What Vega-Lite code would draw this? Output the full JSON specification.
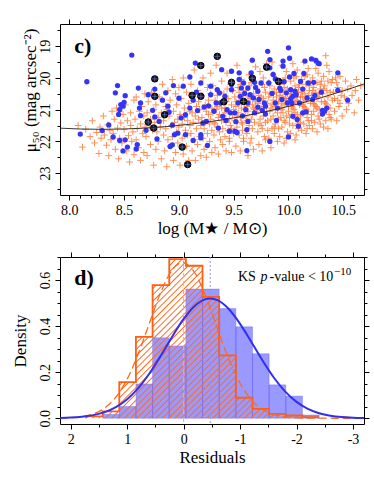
{
"$schema": "https://vega.github.io/schema/vega-lite/v6.json",
"padding": {"left": 11, "top": 18, "right": 0, "bottom": 0},
"spacing": 14,
"config": {
  "view": {"stroke": "black", "strokeWidth": 1},
  "font": "Liberation Serif",
  "axis": {"domain": false, "grid": false, "labelFont": "Liberation Serif", "titleFont": "Liberation Serif", "labelColor": "black", "titleColor": "black", "tickColor": "black", "titleFontWeight": "normal", "labelFontSize": 14, "titleFontSize": 17, "tickWidth": 1, "labelOverlap": false, "labelFlush": false, "labelPadding": 3, "titlePadding": 3}
},
"vconcat": [
{
  "width": 304, "height": 171,
  "layer": [
    {"layer": [
      {
        "data": {"values": [
{"x":8.08,"y":21.5},{"x":8.12,"y":22.18},{"x":8.15,"y":21.62},{"x":8.19,"y":21.85},
{"x":8.21,"y":21.35},{"x":8.23,"y":22.05},{"x":8.25,"y":21.72},{"x":8.27,"y":22.38},{"x":8.28,"y":21.55},{"x":8.29,"y":21.9},
{"x":8.31,"y":21.2},{"x":8.32,"y":21.8},{"x":8.34,"y":22.12},{"x":8.35,"y":21.48},{"x":8.36,"y":22.45},{"x":8.37,"y":21.65},{"x":8.38,"y":21.95},{"x":8.39,"y":21.05},
{"x":8.4,"y":21.75},{"x":8.41,"y":21.3},{"x":8.42,"y":22.25},{"x":8.43,"y":20.95},{"x":8.44,"y":21.58},{"x":8.45,"y":22.55},{"x":8.46,"y":21.9},{"x":8.47,"y":21.42},{"x":8.48,"y":22.05},{"x":8.49,"y":21.15},
{"x":8.5,"y":21.62},{"x":8.51,"y":20.85},{"x":8.52,"y":22.3},{"x":8.53,"y":21.35},{"x":8.54,"y":21.82},{"x":8.55,"y":22.65},{"x":8.56,"y":21.1},{"x":8.56,"y":21.5},{"x":8.57,"y":22.0},{"x":8.58,"y":21.7},{"x":8.59,"y":20.7},{"x":8.59,"y":22.42},
{"x":8.6,"y":21.3},{"x":8.61,"y":21.95},{"x":8.61,"y":20.6},{"x":8.62,"y":21.6},{"x":8.63,"y":22.2},{"x":8.64,"y":21.05},{"x":8.65,"y":21.45},{"x":8.65,"y":22.6},{"x":8.66,"y":20.9},{"x":8.67,"y":21.75},{"x":8.68,"y":22.35},{"x":8.68,"y":21.2},{"x":8.69,"y":21.55},{"x":8.69,"y":20.5},
{"x":8.7,"y":21.85},{"x":8.71,"y":21.1},{"x":8.71,"y":22.45},{"x":8.72,"y":20.75},{"x":8.73,"y":21.5},{"x":8.74,"y":22.1},{"x":8.74,"y":21.3},{"x":8.75,"y":20.45},{"x":8.76,"y":21.65},{"x":8.77,"y":22.75},{"x":8.77,"y":21.0},{"x":8.78,"y":21.4},{"x":8.79,"y":22.25},{"x":8.79,"y":20.85},{"x":8.8,"y":21.7},
{"x":8.81,"y":21.25},{"x":8.81,"y":22.0},{"x":8.82,"y":20.6},{"x":8.83,"y":21.55},{"x":8.84,"y":22.55},{"x":8.84,"y":21.1},{"x":8.85,"y":20.2},{"x":8.86,"y":21.8},{"x":8.86,"y":21.35},{"x":8.87,"y":22.3},{"x":8.88,"y":20.9},{"x":8.88,"y":21.6},{"x":8.89,"y":22.8},{"x":8.89,"y":21.0},{"x":8.9,"y":20.4},{"x":8.9,"y":21.95},
{"x":8.91,"y":21.2},{"x":8.92,"y":22.15},{"x":8.92,"y":20.7},{"x":8.93,"y":21.5},{"x":8.94,"y":20.05},{"x":8.94,"y":21.85},{"x":8.95,"y":22.6},{"x":8.95,"y":21.05},{"x":8.96,"y":21.4},{"x":8.97,"y":20.5},{"x":8.97,"y":22.35},{"x":8.98,"y":21.7},{"x":8.98,"y":20.85},{"x":8.99,"y":21.3},{"x":8.99,"y":22.05},{"x":9.0,"y":20.3},{"x":9.0,"y":21.55},
{"x":9.01,"y":22.75},{"x":9.01,"y":21.15},{"x":9.02,"y":20.65},{"x":9.03,"y":21.45},{"x":9.03,"y":21.9},{"x":9.04,"y":20.0},{"x":9.04,"y":22.4},{"x":9.05,"y":21.25},{"x":9.05,"y":20.95},{"x":9.06,"y":21.65},{"x":9.07,"y":22.15},{"x":9.07,"y":20.45},{"x":9.08,"y":21.35},{"x":9.08,"y":21.8},{"x":9.09,"y":20.8},{"x":9.09,"y":22.6},{"x":9.1,"y":21.05},{"x":9.1,"y":21.5},
{"x":9.11,"y":20.2},{"x":9.11,"y":21.75},{"x":9.12,"y":22.3},{"x":9.12,"y":21.1},{"x":9.13,"y":20.6},{"x":9.13,"y":21.4},{"x":9.14,"y":21.95},{"x":9.14,"y":19.75},{"x":9.15,"y":21.2},{"x":9.15,"y":22.6},{"x":9.16,"y":20.9},{"x":9.16,"y":21.6},{"x":9.17,"y":20.4},{"x":9.17,"y":22.1},{"x":9.18,"y":21.3},{"x":9.18,"y":20.75},{"x":9.19,"y":21.85},{"x":9.19,"y":21.0},{"x":9.2,"y":22.45},{"x":9.2,"y":21.5},
{"x":9.21,"y":20.55},{"x":9.21,"y":21.25},{"x":9.22,"y":21.9},{"x":9.22,"y":20.0},{"x":9.23,"y":21.6},{"x":9.23,"y":22.25},{"x":9.24,"y":20.85},{"x":9.24,"y":21.4},{"x":9.25,"y":21.05},{"x":9.25,"y":22.5},{"x":9.26,"y":20.3},{"x":9.26,"y":21.75},{"x":9.27,"y":21.15},{"x":9.27,"y":20.7},{"x":9.28,"y":22.0},{"x":9.28,"y":21.45},{"x":9.29,"y":19.85},{"x":9.29,"y":21.3},{"x":9.3,"y":20.95},{"x":9.3,"y":21.65},{"x":9.3,"y":22.35},{"x":9.29,"y":20.5},
{"x":9.31,"y":21.1},{"x":9.31,"y":20.25},{"x":9.32,"y":21.8},{"x":9.32,"y":21.4},{"x":9.33,"y":20.7},{"x":9.33,"y":22.2},{"x":9.34,"y":21.0},{"x":9.34,"y":19.6},{"x":9.35,"y":21.55},{"x":9.35,"y":20.9},{"x":9.36,"y":22.4},{"x":9.36,"y":21.25},{"x":9.37,"y":20.45},{"x":9.37,"y":21.7},{"x":9.38,"y":21.95},{"x":9.38,"y":20.8},{"x":9.39,"y":21.35},{"x":9.39,"y":20.1},{"x":9.4,"y":21.6},{"x":9.4,"y":22.1},{"x":9.33,"y":21.45},{"x":9.37,"y":21.15},{"x":9.35,"y":20.55},{"x":9.39,"y":20.95},
{"x":9.41,"y":21.2},{"x":9.41,"y":20.5},{"x":9.42,"y":21.85},{"x":9.42,"y":20.95},{"x":9.43,"y":22.3},{"x":9.43,"y":21.4},{"x":9.44,"y":19.85},{"x":9.44,"y":21.05},{"x":9.45,"y":21.65},{"x":9.45,"y":20.65},{"x":9.46,"y":22.0},{"x":9.46,"y":21.3},{"x":9.47,"y":20.2},{"x":9.47,"y":21.5},{"x":9.48,"y":20.85},{"x":9.48,"y":22.35},{"x":9.49,"y":21.15},{"x":9.49,"y":20.4},{"x":9.5,"y":21.75},{"x":9.5,"y":21.0},{"x":9.43,"y":20.75},{"x":9.46,"y":21.9},{"x":9.44,"y":20.35},{"x":9.48,"y":21.6},{"x":9.42,"y":21.1},
{"x":9.51,"y":20.6},{"x":9.51,"y":21.35},{"x":9.52,"y":22.15},{"x":9.52,"y":20.9},{"x":9.53,"y":19.6},{"x":9.53,"y":21.55},{"x":9.54,"y":20.3},{"x":9.54,"y":21.1},{"x":9.55,"y":21.8},{"x":9.55,"y":20.7},{"x":9.56,"y":22.3},{"x":9.56,"y":21.25},{"x":9.57,"y":20.05},{"x":9.57,"y":20.95},{"x":9.58,"y":21.65},{"x":9.58,"y":21.45},{"x":9.59,"y":20.5},{"x":9.59,"y":22.0},{"x":9.6,"y":21.0},{"x":9.6,"y":20.8},{"x":9.53,"y":21.2},{"x":9.55,"y":20.45},{"x":9.57,"y":21.4},{"x":9.59,"y":21.9},{"x":9.52,"y":20.75},{"x":9.56,"y":20.2},
{"x":9.61,"y":21.2},{"x":9.61,"y":20.4},{"x":9.62,"y":21.75},{"x":9.62,"y":20.9},{"x":9.63,"y":22.45},{"x":9.63,"y":21.05},{"x":9.64,"y":19.9},{"x":9.64,"y":21.5},{"x":9.65,"y":20.65},{"x":9.65,"y":22.05},{"x":9.66,"y":21.3},{"x":9.66,"y":20.15},{"x":9.67,"y":20.85},{"x":9.67,"y":21.6},{"x":9.68,"y":22.25},{"x":9.68,"y":20.5},{"x":9.69,"y":21.0},{"x":9.69,"y":21.4},{"x":9.7,"y":19.65},{"x":9.7,"y":20.75},{"x":9.62,"y":21.35},{"x":9.64,"y":20.25},{"x":9.66,"y":21.9},{"x":9.68,"y":20.95},{"x":9.63,"y":20.6},{"x":9.67,"y":21.15},
{"x":9.71,"y":21.1},{"x":9.71,"y":20.35},{"x":9.72,"y":21.7},{"x":9.72,"y":20.8},{"x":9.73,"y":22.1},{"x":9.73,"y":20.55},{"x":9.74,"y":21.3},{"x":9.74,"y":19.8},{"x":9.75,"y":20.95},{"x":9.75,"y":21.5},{"x":9.76,"y":20.2},{"x":9.76,"y":22.3},{"x":9.77,"y":21.2},{"x":9.77,"y":20.65},{"x":9.78,"y":21.85},{"x":9.78,"y":20.9},{"x":9.79,"y":21.4},{"x":9.79,"y":20.45},{"x":9.8,"y":21.05},{"x":9.8,"y":19.55},{"x":9.72,"y":21.0},{"x":9.74,"y":20.7},{"x":9.76,"y":21.6},{"x":9.78,"y":20.3},{"x":9.73,"y":21.45},{"x":9.77,"y":20.0},{"x":9.79,"y":21.95},{"x":9.75,"y":20.6},
{"x":9.81,"y":20.8},{"x":9.81,"y":21.35},{"x":9.82,"y":20.15},{"x":9.82,"y":21.9},{"x":9.83,"y":21.05},{"x":9.83,"y":20.5},{"x":9.84,"y":22.2},{"x":9.84,"y":20.95},{"x":9.85,"y":21.6},{"x":9.85,"y":19.5},{"x":9.86,"y":20.7},{"x":9.86,"y":21.2},{"x":9.87,"y":20.35},{"x":9.87,"y":21.75},{"x":9.88,"y":20.9},{"x":9.88,"y":21.45},{"x":9.89,"y":20.05},{"x":9.89,"y":20.6},{"x":9.9,"y":21.1},{"x":9.9,"y":22.0},{"x":9.82,"y":20.6},{"x":9.84,"y":21.3},{"x":9.86,"y":19.9},{"x":9.88,"y":21.0},{"x":9.83,"y":20.25},{"x":9.85,"y":20.85},{"x":9.87,"y":21.55},{"x":9.89,"y":20.45},{"x":9.81,"y":21.65},{"x":9.86,"y":20.5},
{"x":9.91,"y":20.75},{"x":9.91,"y":21.3},{"x":9.92,"y":20.2},{"x":9.92,"y":21.85},{"x":9.93,"y":20.95},{"x":9.93,"y":20.45},{"x":9.94,"y":21.55},{"x":9.94,"y":19.6},{"x":9.95,"y":21.1},{"x":9.95,"y":20.6},{"x":9.96,"y":22.05},{"x":9.96,"y":20.85},{"x":9.97,"y":21.4},{"x":9.97,"y":20.0},{"x":9.98,"y":20.7},{"x":9.98,"y":21.2},{"x":9.99,"y":20.35},{"x":9.99,"y":21.7},{"x":10.0,"y":20.9},{"x":10.0,"y":21.05},{"x":9.92,"y":20.55},{"x":9.94,"y":21.0},{"x":9.96,"y":20.3},{"x":9.98,"y":21.9},{"x":9.93,"y":21.25},{"x":9.95,"y":20.1},{"x":9.97,"y":20.65},{"x":9.99,"y":20.5},{"x":9.91,"y":21.6},{"x":9.96,"y":21.35},{"x":9.94,"y":20.8},{"x":9.98,"y":19.8},
{"x":10.01,"y":20.65},{"x":10.01,"y":21.25},{"x":10.02,"y":20.1},{"x":10.02,"y":21.75},{"x":10.03,"y":20.9},{"x":10.03,"y":20.4},{"x":10.04,"y":21.5},{"x":10.04,"y":19.55},{"x":10.05,"y":21.0},{"x":10.05,"y":20.55},{"x":10.06,"y":21.95},{"x":10.06,"y":20.75},{"x":10.07,"y":21.3},{"x":10.07,"y":19.95},{"x":10.08,"y":20.6},{"x":10.08,"y":21.15},{"x":10.09,"y":20.3},{"x":10.09,"y":21.6},{"x":10.1,"y":20.85},{"x":10.1,"y":20.2},{"x":10.02,"y":20.5},{"x":10.04,"y":20.95},{"x":10.06,"y":20.25},{"x":10.08,"y":21.45},{"x":10.03,"y":21.15},{"x":10.05,"y":20.0},{"x":10.07,"y":20.7},{"x":10.09,"y":20.45},{"x":10.01,"y":21.45},{"x":10.06,"y":21.1},{"x":10.04,"y":20.8},{"x":10.08,"y":19.75},{"x":10.03,"y":20.6},{"x":10.07,"y":21.8},
{"x":10.11,"y":20.6},{"x":10.11,"y":21.2},{"x":10.12,"y":20.05},{"x":10.12,"y":21.65},{"x":10.13,"y":20.85},{"x":10.13,"y":20.35},{"x":10.14,"y":21.45},{"x":10.14,"y":19.5},{"x":10.15,"y":20.95},{"x":10.15,"y":20.5},{"x":10.16,"y":21.75},{"x":10.16,"y":20.7},{"x":10.17,"y":21.25},{"x":10.17,"y":19.9},{"x":10.18,"y":20.55},{"x":10.18,"y":21.05},{"x":10.19,"y":20.25},{"x":10.19,"y":21.5},{"x":10.2,"y":20.8},{"x":10.2,"y":20.15},{"x":10.12,"y":20.45},{"x":10.14,"y":20.9},{"x":10.16,"y":20.2},{"x":10.18,"y":21.35},{"x":10.13,"y":21.1},{"x":10.15,"y":19.95},{"x":10.17,"y":20.65},{"x":10.19,"y":20.4},{"x":10.11,"y":21.4},{"x":10.16,"y":21.0},{"x":10.14,"y":20.75},{"x":10.18,"y":19.7},{"x":10.13,"y":20.6},{"x":10.17,"y":21.6},
{"x":10.21,"y":20.55},{"x":10.21,"y":21.15},{"x":10.22,"y":20.0},{"x":10.22,"y":21.6},{"x":10.23,"y":20.8},{"x":10.23,"y":20.3},{"x":10.24,"y":21.4},{"x":10.24,"y":19.45},{"x":10.25,"y":20.9},{"x":10.25,"y":20.45},{"x":10.26,"y":21.7},{"x":10.26,"y":20.65},{"x":10.27,"y":21.2},{"x":10.27,"y":19.85},{"x":10.28,"y":20.5},{"x":10.28,"y":21.0},{"x":10.29,"y":20.2},{"x":10.29,"y":21.45},{"x":10.3,"y":20.75},{"x":10.3,"y":20.1},{"x":10.22,"y":20.4},{"x":10.24,"y":20.85},{"x":10.26,"y":20.15},{"x":10.28,"y":21.3},{"x":10.23,"y":21.05},{"x":10.25,"y":19.7},{"x":10.27,"y":20.6},{"x":10.29,"y":20.35},{"x":10.21,"y":21.35},{"x":10.26,"y":20.95},
{"x":10.31,"y":20.5},{"x":10.31,"y":21.1},{"x":10.32,"y":19.95},{"x":10.32,"y":21.55},{"x":10.33,"y":20.75},{"x":10.33,"y":20.25},{"x":10.34,"y":21.35},{"x":10.34,"y":19.3},{"x":10.35,"y":20.85},{"x":10.35,"y":20.4},{"x":10.36,"y":21.6},{"x":10.36,"y":20.6},{"x":10.37,"y":21.15},{"x":10.37,"y":19.8},{"x":10.38,"y":20.45},{"x":10.38,"y":20.95},{"x":10.39,"y":20.15},{"x":10.39,"y":21.3},{"x":10.4,"y":20.7},{"x":10.4,"y":20.05},{"x":10.32,"y":20.35},{"x":10.34,"y":20.8},{"x":10.36,"y":20.1},{"x":10.38,"y":21.25},{"x":10.33,"y":21.0},{"x":10.35,"y":19.6},
{"x":10.41,"y":20.45},{"x":10.42,"y":21.05},{"x":10.43,"y":20.0},{"x":10.44,"y":21.35},{"x":10.45,"y":20.7},{"x":10.45,"y":20.3},{"x":10.46,"y":20.9},{"x":10.47,"y":19.95},{"x":10.48,"y":20.55},{"x":10.49,"y":21.2},{"x":10.42,"y":20.65},{"x":10.44,"y":20.15},{"x":10.47,"y":20.8},{"x":10.49,"y":20.4},
{"x":10.51,"y":20.6},{"x":10.52,"y":20.1},{"x":10.53,"y":21.0},{"x":10.54,"y":20.35},{"x":10.55,"y":20.8},{"x":10.57,"y":20.25},{"x":10.58,"y":20.55},{"x":10.6,"y":21.1},
{"x":10.61,"y":20.4},{"x":10.62,"y":20.05},{"x":10.64,"y":20.7},{"x":10.66,"y":20.25}
        ]},
        "mark": {"type": "point", "shape": "M-1,0H1M0,-1V1", "filled": false, "stroke": "#ff6a1e", "strokeWidth": 1, "size": 45, "opacity": 0.75},
        "encoding": {
          "x": {"field": "x", "type": "quantitative", "scale": {"domain": [7.915, 10.689], "nice": false, "zero": false},
            "axis": {"orient": "bottom", "values": [8,8.5,9,9.5,10,10.5], "format": ".1f", "tickSize": 5, "labelOverlap": false,
              "title": "log (M★ / M⊙)"}},
          "y": {"field": "y", "type": "quantitative", "scale": {"domain": [18.3, 23.69], "reverse": true, "nice": false, "zero": false},
            "axis": {"orient": "left", "values": [19,20,21,22,23], "format": "d", "tickSize": 5, "labelOverlap": false,
              "labelAngle": 270, "labelAlign": "center", "labelBaseline": "bottom",
              "title": "μ₅₀ (mag arcsec⁻²)", "titleY": 66, "titleX": -24.5, "titleBaseline": "alphabetic", "titleAngle": 270, "titleAlign": "center"}}
        }
      },
      {
        "data": {"values": [
{"x":8.1,"y":21.77},{"x":8.16,"y":20.12},{"x":8.3,"y":21.66},{"x":8.36,"y":21.48},{"x":8.4,"y":21.86},{"x":8.42,"y":20.47},{"x":8.44,"y":20.24},{"x":8.45,"y":21.15},{"x":8.46,"y":21.0},{"x":8.47,"y":20.84},{"x":8.49,"y":20.89},{"x":8.5,"y":20.77},{"x":8.51,"y":20.56},{"x":8.46,"y":21.97},{"x":8.49,"y":22.3},{"x":8.51,"y":21.95},{"x":8.53,"y":22.18},{"x":8.57,"y":19.28},{"x":8.61,"y":22.24},{"x":8.62,"y":22.1},
{"x":8.63,"y":20.32},{"x":8.64,"y":20.95},{"x":8.65,"y":20.79},{"x":8.65,"y":21.19},{"x":8.72,"y":20.53},{"x":8.76,"y":21.02},{"x":8.78,"y":21.23},{"x":8.78,"y":20.35},{"x":8.8,"y":21.92},{"x":8.82,"y":21.37},{"x":8.88,"y":20.47},{"x":8.9,"y":20.89},{"x":8.91,"y":21.08},{"x":8.94,"y":21.49},{"x":8.95,"y":20.24},{"x":8.92,"y":22.16},{"x":8.94,"y":22.11},{"x":8.96,"y":21.79},{"x":8.99,"y":21.74},{"x":9.0,"y":20.64},
{"x":9.02,"y":21.26},{"x":9.04,"y":20.26},{"x":9.06,"y":21.79},{"x":9.06,"y":21.16},{"x":9.1,"y":19.97},{"x":9.1,"y":20.95},{"x":9.13,"y":21.97},{"x":9.16,"y":20.45},{"x":9.17,"y":21.03},{"x":9.2,"y":21.79},{"x":9.2,"y":21.89},{"x":9.2,"y":20.16},{"x":9.22,"y":21.42},{"x":9.23,"y":20.92},{"x":9.25,"y":21.37},{"x":9.26,"y":22.13},{"x":9.15,"y":19.53},{"x":9.29,"y":20.53},{"x":9.29,"y":20.26},{"x":9.32,"y":21.05},
{"x":9.34,"y":20.79},{"x":9.35,"y":20.37},{"x":9.37,"y":20.47},{"x":9.38,"y":20.79},{"x":9.39,"y":19.74},{"x":9.4,"y":21.21},{"x":9.42,"y":20.58},{"x":9.43,"y":21.34},{"x":9.46,"y":21.68},{"x":9.47,"y":21.1},{"x":9.48,"y":19.79},{"x":9.48,"y":20.21},{"x":9.48,"y":20.37},{"x":9.51,"y":21.1},{"x":9.51,"y":21.68},{"x":9.52,"y":21.38},{"x":9.54,"y":20.79},{"x":9.55,"y":19.84},{"x":9.55,"y":20.05},{"x":9.56,"y":20.58},
{"x":9.57,"y":20.32},{"x":9.59,"y":20.16},{"x":9.6,"y":20.49},{"x":9.61,"y":21.0},{"x":9.62,"y":21.63},{"x":9.63,"y":20.79},{"x":9.63,"y":21.37},{"x":9.63,"y":20.32},{"x":9.65,"y":20.53},{"x":9.66,"y":19.84},{"x":9.67,"y":19.44},{"x":9.68,"y":20.63},{"x":9.69,"y":20.14},{"x":9.69,"y":21.1},{"x":9.72,"y":20.42},{"x":9.72,"y":20.92},{"x":9.73,"y":20.68},{"x":9.75,"y":20.16},{"x":9.78,"y":20.79},{"x":9.79,"y":20.89},
{"x":9.79,"y":21.14},{"x":9.81,"y":19.16},{"x":9.82,"y":20.16},{"x":9.83,"y":19.68},{"x":9.83,"y":19.42},{"x":9.85,"y":20.49},{"x":9.86,"y":19.89},{"x":9.88,"y":20.03},{"x":9.88,"y":20.79},{"x":9.89,"y":21.34},{"x":9.83,"y":22.0},{"x":9.92,"y":20.32},{"x":9.93,"y":20.39},{"x":9.94,"y":20.68},{"x":9.95,"y":19.47},{"x":9.95,"y":19.63},{"x":9.96,"y":20.12},{"x":9.98,"y":20.47},{"x":9.99,"y":20.79},{"x":10.0,"y":19.05},
{"x":10.01,"y":19.38},{"x":10.01,"y":19.97},{"x":10.02,"y":20.37},{"x":10.02,"y":20.66},{"x":10.03,"y":20.79},{"x":10.04,"y":20.58},{"x":10.04,"y":21.21},{"x":10.05,"y":19.86},{"x":10.07,"y":20.53},{"x":10.08,"y":21.31},{"x":10.1,"y":20.79},{"x":10.11,"y":20.11},{"x":10.13,"y":20.35},{"x":10.13,"y":21.1},{"x":10.14,"y":19.86},{"x":10.15,"y":19.47},{"x":10.17,"y":20.63},{"x":10.18,"y":20.16},{"x":10.21,"y":19.4},{"x":10.22,"y":20.68},
{"x":10.23,"y":20.14},{"x":10.25,"y":19.45},{"x":10.27,"y":19.53},{"x":10.28,"y":19.55},{"x":10.3,"y":20.45},{"x":10.31,"y":21.02},{"x":10.31,"y":21.14},{"x":10.45,"y":19.84},{"x":10.45,"y":20.39},{"x":10.54,"y":20.7},{"x":9.62,"y":22.29},{"x":10.09,"y":21.52},{"x":10.0,"y":21.86},
{"x":9.13,"y":20.7},{"x":9.27,"y":20.88},{"x":9.44,"y":21.0},{"x":9.58,"y":21.2},{"x":9.7,"y":20.3},{"x":9.76,"y":21.02},{"x":9.9,"y":20.95},{"x":10.06,"y":20.42},{"x":10.16,"y":21.07},{"x":10.24,"y":20.55},{"x":8.7,"y":21.65},{"x":8.85,"y":20.7},{"x":9.36,"y":21.58},{"x":9.53,"y":21.72},{"x":10.35,"y":20.95},{"x":10.33,"y":21.05}
        ]},
        "mark": {"type": "circle", "fill": "#3434f6", "size": 28, "opacity": 1},
        "encoding": {
          "x": {"field": "x", "type": "quantitative", "scale": {"domain": [7.915, 10.689], "nice": false, "zero": false}},
          "y": {"field": "y", "type": "quantitative", "scale": {"domain": [18.3, 23.69], "reverse": true, "nice": false, "zero": false}}
        }
      },
      {
        "data": {"values": [
{"x":8.78,"y":20.03},{"x":8.78,"y":20.58},{"x":8.87,"y":21.16},{"x":8.72,"y":21.39},{"x":8.77,"y":21.58},{"x":9.03,"y":22.18},{"x":9.08,"y":22.73},{"x":9.12,"y":20.55},{"x":9.2,"y":19.61},{"x":9.2,"y":20.58},{"x":9.35,"y":19.32},{"x":9.41,"y":20.75},{"x":9.48,"y":20.14},{"x":9.59,"y":20.74},{"x":9.67,"y":20.01},{"x":9.8,"y":19.66},{"x":9.91,"y":20.11}
        ]},
        "mark": {"type": "circle", "fill": "#141420", "stroke": "black", "strokeWidth": 1, "size": 42, "opacity": 1},
        "encoding": {
          "x": {"field": "x", "type": "quantitative", "scale": {"domain": [7.915, 10.689], "nice": false, "zero": false}},
          "y": {"field": "y", "type": "quantitative", "scale": {"domain": [18.3, 23.69], "reverse": true, "nice": false, "zero": false}}
        }
      },
      {
        "data": {"values": [
{"x":8.78,"y":20.03},{"x":8.78,"y":20.58},{"x":8.87,"y":21.16},{"x":8.72,"y":21.39},{"x":8.77,"y":21.58},{"x":9.03,"y":22.18},{"x":9.08,"y":22.73},{"x":9.12,"y":20.55},{"x":9.2,"y":19.61},{"x":9.2,"y":20.58},{"x":9.35,"y":19.32},{"x":9.41,"y":20.75},{"x":9.48,"y":20.14},{"x":9.59,"y":20.74},{"x":9.67,"y":20.01},{"x":9.8,"y":19.66},{"x":9.91,"y":20.11}
        ]},
        "mark": {"type": "point", "shape": "M-1,0H1M0,-1V1", "filled": false, "stroke": "#5a6aa8", "strokeWidth": 0.8, "size": 30, "opacity": 1},
        "encoding": {
          "x": {"field": "x", "type": "quantitative", "scale": {"domain": [7.915, 10.689], "nice": false, "zero": false}},
          "y": {"field": "y", "type": "quantitative", "scale": {"domain": [18.3, 23.69], "reverse": true, "nice": false, "zero": false}}
        }
      },
      {
        "data": {"values": [
{"x":7.915,"y":21.583},{"x":8.1,"y":21.61},{"x":8.3,"y":21.62},{"x":8.5,"y":21.61},{"x":8.7,"y":21.58},{"x":8.9,"y":21.53},{"x":9.1,"y":21.46},{"x":9.3,"y":21.37},{"x":9.5,"y":21.26},{"x":9.7,"y":21.13},{"x":9.9,"y":20.98},{"x":10.1,"y":20.81},{"x":10.3,"y":20.62},{"x":10.5,"y":20.41},{"x":10.689,"y":20.19}
        ]},
        "mark": {"type": "line", "stroke": "#222222", "strokeWidth": 0.9, "interpolate": "monotone"},
        "encoding": {
          "x": {"field": "x", "type": "quantitative", "scale": {"domain": [7.915, 10.689], "nice": false, "zero": false}},
          "y": {"field": "y", "type": "quantitative", "scale": {"domain": [18.3, 23.69], "reverse": true, "nice": false, "zero": false}}
        }
      },
      {
        "data": {"values": [{}]},
        "mark": {"type": "text", "text": "c)", "font": "Liberation Serif", "fontSize": 22, "fontWeight": "bold", "align": "left", "baseline": "alphabetic", "color": "black"},
        "encoding": {
          "x": {"datum": 8.046, "type": "quantitative"},
          "y": {"datum": 19.21, "type": "quantitative"}
        }
      }
    ]},
    {
      "data": {"values": [{"x": 9, "y": 21}]},
      "mark": {"type": "point", "opacity": 0},
      "encoding": {
        "x": {"field": "x", "type": "quantitative", "scale": {"domain": [7.915, 10.689], "nice": false, "zero": false},
          "axis": {"orient": "top", "values": [8,8.1,8.2,8.3,8.4,8.5,8.6,8.7,8.8,8.9,9,9.1,9.2,9.3,9.4,9.5,9.6,9.7,9.8,9.9,10,10.1,10.2,10.3,10.4,10.5,10.6], "labels": false, "title": null,
            "tickSize": {"condition": {"test": "abs(datum.value*2-round(datum.value*2))<0.001", "value": 5}, "value": 3}}},
        "y": {"field": "y", "type": "quantitative", "scale": {"domain": [18.3, 23.69], "reverse": true, "nice": false, "zero": false},
          "axis": {"orient": "right", "values": [18.5,19,19.5,20,20.5,21,21.5,22,22.5,23,23.5], "labels": false, "title": null,
            "tickSize": {"condition": {"test": "abs(datum.value-round(datum.value))<0.001", "value": 5}, "value": 3}}}
      }
    },
    {
      "data": {"values": [{"x": 9, "y": 21}]},
      "mark": {"type": "point", "opacity": 0},
      "encoding": {
        "x": {"field": "x", "type": "quantitative", "scale": {"domain": [7.915, 10.689], "nice": false, "zero": false},
          "axis": {"orient": "bottom", "values": [8.1,8.2,8.3,8.4,8.6,8.7,8.8,8.9,9.1,9.2,9.3,9.4,9.6,9.7,9.8,9.9,10.1,10.2,10.3,10.4,10.6], "labels": false, "title": null, "tickSize": 3}},
        "y": {"field": "y", "type": "quantitative", "scale": {"domain": [18.3, 23.69], "reverse": true, "nice": false, "zero": false},
          "axis": {"orient": "left", "values": [18.5,19.5,20.5,21.5,22.5,23.5], "labels": false, "title": null, "tickSize": 3}}
      }
    }
  ],
  "resolve": {"axis": {"x": "independent", "y": "independent"}}
},
{
  "width": 304, "height": 167,
  "layer": [
    {"layer": [
      {
        "data": {"values": [
{"x1":-2.4,"x2":-2.105,"h":0.014},{"x1":-2.105,"x2":-1.81,"h":0.096},{"x1":-1.81,"x2":-1.515,"h":0.145},{"x1":-1.515,"x2":-1.22,"h":0.28},{"x1":-1.22,"x2":-0.925,"h":0.397},{"x1":-0.925,"x2":-0.63,"h":0.476},{"x1":-0.63,"x2":-0.335,"h":0.561},{"x1":-0.335,"x2":-0.04,"h":0.561},{"x1":-0.04,"x2":0.255,"h":0.314},{"x1":0.255,"x2":0.55,"h":0.349},{"x1":0.55,"x2":0.845,"h":0.149},{"x1":0.845,"x2":1.14,"h":0.051},{"x1":1.14,"x2":1.435,"h":0.017}
        ]},
        "mark": {"type": "rect", "fill": "#3333ff", "fillOpacity": 0.5, "stroke": "#3333ff", "strokeOpacity": 0.25, "strokeWidth": 1},
        "encoding": {
          "x": {"field": "x1", "type": "quantitative", "scale": {"domain": [-3.195, 2.19], "reverse": true, "nice": false, "zero": false},
            "axis": {"orient": "bottom", "values": [-3,-2,-1,0,1,2], "labelExpr": "toString(datum.value)", "tickSize": 5, "labelOverlap": false,
              "title": "Residuals"}},
          "x2": {"field": "x2"},
          "y": {"field": "h", "type": "quantitative", "scale": {"domain": [-0.025, 0.7], "nice": false, "zero": false},
            "axis": {"orient": "left", "values": [0,0.2,0.4,0.6], "format": ".1f", "tickSize": 5, "labelOverlap": false,
              "labelAngle": 270, "labelAlign": "center", "labelBaseline": "bottom",
              "title": "Density", "titleX": -34.4, "titleBaseline": "alphabetic", "titleAngle": 270, "titleAlign": "center"}},
          "y2": {"datum": 0}
        }
      },
      {
        "data": {"values": [
{"x":-2.4,"h":0.005},{"x":-2.105,"h":0.012},{"x":-1.81,"h":0.019},{"x":-1.515,"h":0.041},{"x":-1.22,"h":0.089},{"x":-0.925,"h":0.273},{"x":-0.63,"h":0.527},{"x":-0.335,"h":0.662},{"x":-0.04,"h":0.691},{"x":0.255,"h":0.578},{"x":0.55,"h":0.353},{"x":0.845,"h":0.157},{"x":1.14,"h":0.03},{"x":1.435,"h":0.008},{"x":1.73,"h":0}
        ]},
        "layer": [
          {"mark": {"type": "area", "interpolate": "step-before", "opacity": 1,
            "fill": {"gradient": "linear", "x1": 0, "y1": 0, "x2": 1.1477, "y2": 0.7837, "stops": [
{"offset":0,"color":"rgba(255,106,26,0)"},{"offset":0.0035,"color":"#ff6a1a"},{"offset":0.007,"color":"rgba(255,106,26,0)"},
{"offset":0.0161,"color":"rgba(255,106,26,0)"},{"offset":0.0196,"color":"#ff6a1a"},{"offset":0.0231,"color":"rgba(255,106,26,0)"},
{"offset":0.0323,"color":"rgba(255,106,26,0)"},{"offset":0.0358,"color":"#ff6a1a"},{"offset":0.0393,"color":"rgba(255,106,26,0)"},
{"offset":0.0484,"color":"rgba(255,106,26,0)"},{"offset":0.0519,"color":"#ff6a1a"},{"offset":0.0554,"color":"rgba(255,106,26,0)"},
{"offset":0.0645,"color":"rgba(255,106,26,0)"},{"offset":0.068,"color":"#ff6a1a"},{"offset":0.0715,"color":"rgba(255,106,26,0)"},
{"offset":0.0806,"color":"rgba(255,106,26,0)"},{"offset":0.0841,"color":"#ff6a1a"},{"offset":0.0876,"color":"rgba(255,106,26,0)"},
{"offset":0.0968,"color":"rgba(255,106,26,0)"},{"offset":0.1003,"color":"#ff6a1a"},{"offset":0.1038,"color":"rgba(255,106,26,0)"},
{"offset":0.1129,"color":"rgba(255,106,26,0)"},{"offset":0.1164,"color":"#ff6a1a"},{"offset":0.1199,"color":"rgba(255,106,26,0)"},
{"offset":0.129,"color":"rgba(255,106,26,0)"},{"offset":0.1325,"color":"#ff6a1a"},{"offset":0.136,"color":"rgba(255,106,26,0)"},
{"offset":0.1452,"color":"rgba(255,106,26,0)"},{"offset":0.1487,"color":"#ff6a1a"},{"offset":0.1522,"color":"rgba(255,106,26,0)"},
{"offset":0.1613,"color":"rgba(255,106,26,0)"},{"offset":0.1648,"color":"#ff6a1a"},{"offset":0.1683,"color":"rgba(255,106,26,0)"},
{"offset":0.1774,"color":"rgba(255,106,26,0)"},{"offset":0.1809,"color":"#ff6a1a"},{"offset":0.1844,"color":"rgba(255,106,26,0)"},
{"offset":0.1935,"color":"rgba(255,106,26,0)"},{"offset":0.197,"color":"#ff6a1a"},{"offset":0.2005,"color":"rgba(255,106,26,0)"},
{"offset":0.2097,"color":"rgba(255,106,26,0)"},{"offset":0.2132,"color":"#ff6a1a"},{"offset":0.2167,"color":"rgba(255,106,26,0)"},
{"offset":0.2258,"color":"rgba(255,106,26,0)"},{"offset":0.2293,"color":"#ff6a1a"},{"offset":0.2328,"color":"rgba(255,106,26,0)"},
{"offset":0.2419,"color":"rgba(255,106,26,0)"},{"offset":0.2454,"color":"#ff6a1a"},{"offset":0.2489,"color":"rgba(255,106,26,0)"},
{"offset":0.2581,"color":"rgba(255,106,26,0)"},{"offset":0.2616,"color":"#ff6a1a"},{"offset":0.2651,"color":"rgba(255,106,26,0)"},
{"offset":0.2742,"color":"rgba(255,106,26,0)"},{"offset":0.2777,"color":"#ff6a1a"},{"offset":0.2812,"color":"rgba(255,106,26,0)"},
{"offset":0.2903,"color":"rgba(255,106,26,0)"},{"offset":0.2938,"color":"#ff6a1a"},{"offset":0.2973,"color":"rgba(255,106,26,0)"},
{"offset":0.3065,"color":"rgba(255,106,26,0)"},{"offset":0.31,"color":"#ff6a1a"},{"offset":0.3135,"color":"rgba(255,106,26,0)"},
{"offset":0.3226,"color":"rgba(255,106,26,0)"},{"offset":0.3261,"color":"#ff6a1a"},{"offset":0.3296,"color":"rgba(255,106,26,0)"},
{"offset":0.3387,"color":"rgba(255,106,26,0)"},{"offset":0.3422,"color":"#ff6a1a"},{"offset":0.3457,"color":"rgba(255,106,26,0)"},
{"offset":0.3548,"color":"rgba(255,106,26,0)"},{"offset":0.3583,"color":"#ff6a1a"},{"offset":0.3618,"color":"rgba(255,106,26,0)"},
{"offset":0.371,"color":"rgba(255,106,26,0)"},{"offset":0.3745,"color":"#ff6a1a"},{"offset":0.378,"color":"rgba(255,106,26,0)"},
{"offset":0.3871,"color":"rgba(255,106,26,0)"},{"offset":0.3906,"color":"#ff6a1a"},{"offset":0.3941,"color":"rgba(255,106,26,0)"},
{"offset":0.4032,"color":"rgba(255,106,26,0)"},{"offset":0.4067,"color":"#ff6a1a"},{"offset":0.4102,"color":"rgba(255,106,26,0)"},
{"offset":0.4194,"color":"rgba(255,106,26,0)"},{"offset":0.4229,"color":"#ff6a1a"},{"offset":0.4264,"color":"rgba(255,106,26,0)"},
{"offset":0.4355,"color":"rgba(255,106,26,0)"},{"offset":0.439,"color":"#ff6a1a"},{"offset":0.4425,"color":"rgba(255,106,26,0)"},
{"offset":0.4516,"color":"rgba(255,106,26,0)"},{"offset":0.4551,"color":"#ff6a1a"},{"offset":0.4586,"color":"rgba(255,106,26,0)"},
{"offset":0.4677,"color":"rgba(255,106,26,0)"},{"offset":0.4712,"color":"#ff6a1a"},{"offset":0.4747,"color":"rgba(255,106,26,0)"},
{"offset":0.4839,"color":"rgba(255,106,26,0)"},{"offset":0.4874,"color":"#ff6a1a"},{"offset":0.4909,"color":"rgba(255,106,26,0)"},
{"offset":0.5,"color":"rgba(255,106,26,0)"},{"offset":0.5035,"color":"#ff6a1a"},{"offset":0.507,"color":"rgba(255,106,26,0)"},
{"offset":0.5161,"color":"rgba(255,106,26,0)"},{"offset":0.5196,"color":"#ff6a1a"},{"offset":0.5231,"color":"rgba(255,106,26,0)"},
{"offset":0.5323,"color":"rgba(255,106,26,0)"},{"offset":0.5358,"color":"#ff6a1a"},{"offset":0.5393,"color":"rgba(255,106,26,0)"},
{"offset":0.5484,"color":"rgba(255,106,26,0)"},{"offset":0.5519,"color":"#ff6a1a"},{"offset":0.5554,"color":"rgba(255,106,26,0)"},
{"offset":0.5645,"color":"rgba(255,106,26,0)"},{"offset":0.568,"color":"#ff6a1a"},{"offset":0.5715,"color":"rgba(255,106,26,0)"},
{"offset":0.5806,"color":"rgba(255,106,26,0)"},{"offset":0.5841,"color":"#ff6a1a"},{"offset":0.5876,"color":"rgba(255,106,26,0)"},
{"offset":0.5968,"color":"rgba(255,106,26,0)"},{"offset":0.6003,"color":"#ff6a1a"},{"offset":0.6038,"color":"rgba(255,106,26,0)"},
{"offset":0.6129,"color":"rgba(255,106,26,0)"},{"offset":0.6164,"color":"#ff6a1a"},{"offset":0.6199,"color":"rgba(255,106,26,0)"},
{"offset":0.629,"color":"rgba(255,106,26,0)"},{"offset":0.6325,"color":"#ff6a1a"},{"offset":0.636,"color":"rgba(255,106,26,0)"},
{"offset":0.6452,"color":"rgba(255,106,26,0)"},{"offset":0.6487,"color":"#ff6a1a"},{"offset":0.6522,"color":"rgba(255,106,26,0)"},
{"offset":0.6613,"color":"rgba(255,106,26,0)"},{"offset":0.6648,"color":"#ff6a1a"},{"offset":0.6683,"color":"rgba(255,106,26,0)"},
{"offset":0.6774,"color":"rgba(255,106,26,0)"},{"offset":0.6809,"color":"#ff6a1a"},{"offset":0.6844,"color":"rgba(255,106,26,0)"},
{"offset":0.6935,"color":"rgba(255,106,26,0)"},{"offset":0.697,"color":"#ff6a1a"},{"offset":0.7005,"color":"rgba(255,106,26,0)"},
{"offset":0.7097,"color":"rgba(255,106,26,0)"},{"offset":0.7132,"color":"#ff6a1a"},{"offset":0.7167,"color":"rgba(255,106,26,0)"},
{"offset":0.7258,"color":"rgba(255,106,26,0)"},{"offset":0.7293,"color":"#ff6a1a"},{"offset":0.7328,"color":"rgba(255,106,26,0)"},
{"offset":0.7419,"color":"rgba(255,106,26,0)"},{"offset":0.7454,"color":"#ff6a1a"},{"offset":0.7489,"color":"rgba(255,106,26,0)"},
{"offset":0.7581,"color":"rgba(255,106,26,0)"},{"offset":0.7616,"color":"#ff6a1a"},{"offset":0.7651,"color":"rgba(255,106,26,0)"},
{"offset":0.7742,"color":"rgba(255,106,26,0)"},{"offset":0.7777,"color":"#ff6a1a"},{"offset":0.7812,"color":"rgba(255,106,26,0)"},
{"offset":0.7903,"color":"rgba(255,106,26,0)"},{"offset":0.7938,"color":"#ff6a1a"},{"offset":0.7973,"color":"rgba(255,106,26,0)"},
{"offset":0.8065,"color":"rgba(255,106,26,0)"},{"offset":0.81,"color":"#ff6a1a"},{"offset":0.8135,"color":"rgba(255,106,26,0)"},
{"offset":0.8226,"color":"rgba(255,106,26,0)"},{"offset":0.8261,"color":"#ff6a1a"},{"offset":0.8296,"color":"rgba(255,106,26,0)"},
{"offset":0.8387,"color":"rgba(255,106,26,0)"},{"offset":0.8422,"color":"#ff6a1a"},{"offset":0.8457,"color":"rgba(255,106,26,0)"},
{"offset":0.8548,"color":"rgba(255,106,26,0)"},{"offset":0.8583,"color":"#ff6a1a"},{"offset":0.8618,"color":"rgba(255,106,26,0)"},
{"offset":0.871,"color":"rgba(255,106,26,0)"},{"offset":0.8745,"color":"#ff6a1a"},{"offset":0.878,"color":"rgba(255,106,26,0)"},
{"offset":0.8871,"color":"rgba(255,106,26,0)"},{"offset":0.8906,"color":"#ff6a1a"},{"offset":0.8941,"color":"rgba(255,106,26,0)"},
{"offset":0.9032,"color":"rgba(255,106,26,0)"},{"offset":0.9067,"color":"#ff6a1a"},{"offset":0.9102,"color":"rgba(255,106,26,0)"},
{"offset":0.9194,"color":"rgba(255,106,26,0)"},{"offset":0.9229,"color":"#ff6a1a"},{"offset":0.9264,"color":"rgba(255,106,26,0)"},
{"offset":0.9355,"color":"rgba(255,106,26,0)"},{"offset":0.939,"color":"#ff6a1a"},{"offset":0.9425,"color":"rgba(255,106,26,0)"},
{"offset":0.9516,"color":"rgba(255,106,26,0)"},{"offset":0.9551,"color":"#ff6a1a"},{"offset":0.9586,"color":"rgba(255,106,26,0)"},
{"offset":0.9677,"color":"rgba(255,106,26,0)"},{"offset":0.9712,"color":"#ff6a1a"},{"offset":0.9747,"color":"rgba(255,106,26,0)"},
{"offset":0.9839,"color":"rgba(255,106,26,0)"},{"offset":0.9874,"color":"#ff6a1a"},{"offset":0.9909,"color":"rgba(255,106,26,0)"}
            ]}},
            "encoding": {"y2": {"datum": 0}}},
          {"mark": {"type": "line", "interpolate": "step-before", "stroke": "#ff5e14", "strokeWidth": 1.8}}
        ],
        "encoding": {
          "x": {"field": "x", "type": "quantitative", "scale": {"domain": [-3.195, 2.19], "reverse": true, "nice": false, "zero": false}},
          "y": {"field": "h", "type": "quantitative", "scale": {"domain": [-0.025, 0.7], "nice": false, "zero": false}}
        }
      },
      {
        "data": {"values": [{}]},
        "mark": {"type": "rule", "stroke": "#ffa878", "strokeDash": [5, 3], "strokeWidth": 1},
        "encoding": {"x": {"datum": 0, "type": "quantitative"}}
      },
      {
        "data": {"values": [{}]},
        "mark": {"type": "rule", "stroke": "#8f8fff", "strokeDash": [2, 2], "strokeWidth": 1},
        "encoding": {"x": {"datum": -0.47, "type": "quantitative"}}
      },
      {
        "data": {"values": [
{"x":-3.2,"h":0},{"x":-3.0,"h":0},{"x":-2.8,"h":0},{"x":-2.6,"h":0.0001},{"x":-2.4,"h":0.0002},{"x":-2.2,"h":0.0006},{"x":-2.0,"h":0.0019},{"x":-1.8,"h":0.0058},{"x":-1.6,"h":0.0156},{"x":-1.4,"h":0.0373},{"x":-1.2,"h":0.0797},{"x":-1.0,"h":0.1517},{"x":-0.8,"h":0.2574},{"x":-0.6,"h":0.3892},{"x":-0.4,"h":0.5247},{"x":-0.2,"h":0.6306},{"x":0.0,"h":0.6756},{"x":0.02,"h":0.676},{"x":0.2,"h":0.645},{"x":0.4,"h":0.549},{"x":0.6,"h":0.417},{"x":0.8,"h":0.282},{"x":1.0,"h":0.17},{"x":1.2,"h":0.0915},{"x":1.4,"h":0.0439},{"x":1.6,"h":0.0187},{"x":1.8,"h":0.0071},{"x":2.0,"h":0.0024},{"x":2.2,"h":0.0007}
        ]},
        "mark": {"type": "line", "interpolate": "monotone", "stroke": "#ff6a1a", "strokeWidth": 1.3, "strokeDash": [8, 4], "clip": true},
        "encoding": {
          "x": {"field": "x", "type": "quantitative", "scale": {"domain": [-3.195, 2.19], "reverse": true, "nice": false, "zero": false}},
          "y": {"field": "h", "type": "quantitative", "scale": {"domain": [-0.025, 0.7], "nice": false, "zero": false}}
        }
      },
      {
        "data": {"values": [
{"x":-3.2,"h":0.0009},{"x":-3.0,"h":0.0023},{"x":-2.8,"h":0.0052},{"x":-2.6,"h":0.011},{"x":-2.4,"h":0.022},{"x":-2.2,"h":0.0409},{"x":-2.0,"h":0.0711},{"x":-1.8,"h":0.1157},{"x":-1.6,"h":0.1757},{"x":-1.4,"h":0.2494},{"x":-1.2,"h":0.3307},{"x":-1.0,"h":0.4096},{"x":-0.8,"h":0.474},{"x":-0.6,"h":0.5126},{"x":-0.47,"h":0.52},{"x":-0.4,"h":0.5178},{"x":-0.2,"h":0.4888},{"x":0.0,"h":0.431},{"x":0.2,"h":0.355},{"x":0.4,"h":0.2734},{"x":0.6,"h":0.1965},{"x":0.8,"h":0.132},{"x":1.0,"h":0.0829},{"x":1.2,"h":0.0486},{"x":1.4,"h":0.0267},{"x":1.6,"h":0.0136},{"x":1.8,"h":0.0065},{"x":2.0,"h":0.0029},{"x":2.2,"h":0.0012}
        ]},
        "mark": {"type": "line", "interpolate": "monotone", "stroke": "#3030ee", "strokeWidth": 2, "clip": true},
        "encoding": {
          "x": {"field": "x", "type": "quantitative", "scale": {"domain": [-3.195, 2.19], "reverse": true, "nice": false, "zero": false}},
          "y": {"field": "h", "type": "quantitative", "scale": {"domain": [-0.025, 0.7], "nice": false, "zero": false}}
        }
      },
      {
        "data": {"values": [{}]},
        "mark": {"type": "text", "text": "d)", "font": "Liberation Serif", "fontSize": 22, "fontWeight": "bold", "align": "left", "baseline": "alphabetic", "color": "black"},
        "encoding": {"x": {"datum": 1.936, "type": "quantitative"}, "y": {"datum": 0.578, "type": "quantitative"}}
      },
      {
        "data": {"values": [{}]},
        "mark": {"type": "text", "text": "KS", "font": "Liberation Serif", "fontSize": 14, "align": "left", "baseline": "alphabetic", "color": "black"},
        "encoding": {"x": {"datum": -0.961, "type": "quantitative"}, "y": {"datum": 0.594, "type": "quantitative"}}
      },
      {
        "data": {"values": [{}]},
        "mark": {"type": "text", "text": "p", "font": "Liberation Serif", "fontSize": 14, "fontStyle": "italic", "align": "left", "baseline": "alphabetic", "color": "black"},
        "encoding": {"x": {"datum": -1.362, "type": "quantitative"}, "y": {"datum": 0.594, "type": "quantitative"}}
      },
      {
        "data": {"values": [{}]},
        "mark": {"type": "text", "text": "-value < 10", "font": "Liberation Serif", "fontSize": 14, "align": "left", "baseline": "alphabetic", "color": "black"},
        "encoding": {"x": {"datum": -1.521, "type": "quantitative"}, "y": {"datum": 0.594, "type": "quantitative"}}
      },
      {
        "data": {"values": [{}]},
        "mark": {"type": "text", "text": "−10", "font": "Liberation Serif", "fontSize": 11, "align": "left", "baseline": "alphabetic", "color": "black"},
        "encoding": {"x": {"datum": -2.663, "type": "quantitative"}, "y": {"datum": 0.622, "type": "quantitative"}}
      }
    ]},
    {
      "data": {"values": [{"x": 0, "y": 0.3}]},
      "mark": {"type": "point", "opacity": 0},
      "encoding": {
        "x": {"field": "x", "type": "quantitative", "scale": {"domain": [-3.195, 2.19], "reverse": true, "nice": false, "zero": false},
          "axis": {"orient": "top", "values": [-3,-2.5,-2,-1.5,-1,-0.5,0,0.5,1,1.5,2], "labels": false, "title": null,
            "tickSize": {"condition": {"test": "abs(datum.value-round(datum.value))<0.001", "value": 5}, "value": 3}}},
        "y": {"field": "y", "type": "quantitative", "scale": {"domain": [-0.025, 0.7], "nice": false, "zero": false},
          "axis": {"orient": "right", "values": [0,0.05,0.1,0.15,0.2,0.25,0.3,0.35,0.4,0.45,0.5,0.55,0.6,0.65,0.7], "labels": false, "title": null,
            "tickSize": {"condition": {"test": "abs(datum.value*5-round(datum.value*5))<0.001", "value": 5}, "value": 3}}}
      }
    },
    {
      "data": {"values": [{"x": 0, "y": 0.3}]},
      "mark": {"type": "point", "opacity": 0},
      "encoding": {
        "x": {"field": "x", "type": "quantitative", "scale": {"domain": [-3.195, 2.19], "reverse": true, "nice": false, "zero": false},
          "axis": {"orient": "bottom", "values": [-2.5,-1.5,-0.5,0.5,1.5], "labels": false, "title": null, "tickSize": 3}},
        "y": {"field": "y", "type": "quantitative", "scale": {"domain": [-0.025, 0.7], "nice": false, "zero": false},
          "axis": {"orient": "left", "values": [0.05,0.1,0.15,0.25,0.3,0.35,0.45,0.5,0.55,0.65,0.7], "labels": false, "title": null, "tickSize": 3}}
      }
    }
  ],
  "resolve": {"axis": {"x": "independent", "y": "independent"}}
}
]
}
